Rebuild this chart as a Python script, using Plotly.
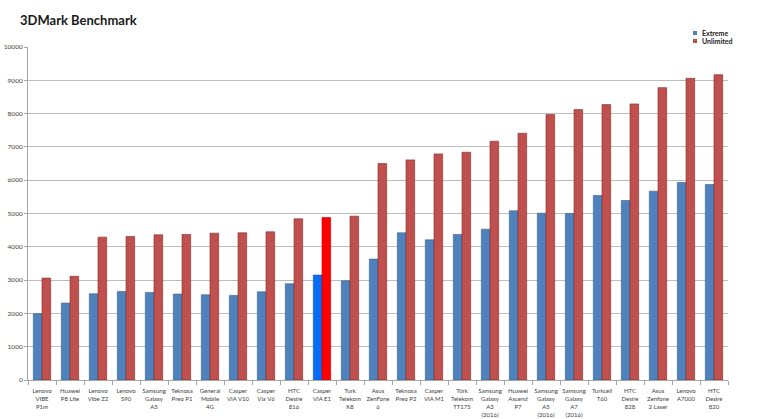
import plotly.graph_objects as go

categories = [
    "Lenovo<br>VIBE<br>P1m", "Huawei<br>P8 Lite", "Lenovo<br>Vibe Z2", "Lenovo<br>S90",
    "Samsung<br>Galaxy<br>A5", "Teknosa<br>Preo P1", "General<br>Mobile<br>4G",
    "Casper<br>VIA V10", "Casper<br>Via V6", "HTC<br>Desire<br>816", "Casper<br>VIA E1",
    "Turk<br>Telekom<br>K8", "Asus<br>ZenFone<br>6", "Teknosa<br>Preo P2", "Casper<br>VIA M1",
    "Türk<br>Telekom<br>TT175", "Samsung<br>Galaxy<br>A3<br>(2016)", "Huawei<br>Ascend<br>P7",
    "Samsung<br>Galaxy<br>A5<br>(2016)", "Samsung<br>Galaxy<br>A7<br>(2016)", "Turkcell<br>T60",
    "HTC<br>Desire<br>828", "Asus<br>Zenfone<br>2 Laser", "Lenovo<br>A7000", "HTC<br>Desire<br>820",
]
extreme = [1990, 2310, 2590, 2660, 2630, 2580, 2560, 2540, 2650, 2890, 3150, 2980, 3630,
           4420, 4210, 4370, 4530, 5080, 5010, 5000, 5540, 5390, 5670, 5930, 5870]
unlimited = [3060, 3115, 4290, 4310, 4360, 4370, 4410, 4420, 4450, 4840, 4880, 4920, 6500,
             6610, 6790, 6840, 7170, 7410, 7970, 8120, 8270, 8290, 8780, 9060, 9170]
highlight = "Casper<br>VIA E1"
y_ticks = [0, 1000, 2000, 3000, 4000, 5000, 6000, 7000, 8000, 9000, 10000]

BLUE, RED = "#4F81BD", "#C0504D"
HBLUE, HRED = "#0A6CF5", "#FF0000"

blue_cols = [HBLUE if c == highlight else BLUE for c in categories]
red_cols = [HRED if c == highlight else RED for c in categories]
red_edge = ["#C00000" if c == highlight else "#7F2A28" for c in categories]
blue_edge = ["#0050C0" if c == highlight else "#35618F" for c in categories]

fig = go.Figure()
fig.add_bar(x=categories, y=extreme, name="Extreme",
            marker=dict(color=blue_cols, line=dict(color=blue_edge, width=0.6)))
fig.add_bar(x=categories, y=unlimited, name="Unlimited",
            marker=dict(color=red_cols, line=dict(color=red_edge, width=0.6)))

fig.update_layout(
    width=770, height=419,
    margin=dict(l=28, r=42, t=47, b=39),
    paper_bgcolor="white", plot_bgcolor="white",
    barmode="group", bargap=0.38, bargroupgap=0.0,
    showlegend=False,
    font=dict(family="Lato, Liberation Sans, sans-serif", size=7, color="#404040"),
    title=dict(text="<b>3DMark Benchmark</b>", x=20 / 770, xanchor="left",
               y=1 - 20 / 419, yanchor="middle",
               font=dict(family="Lato, Open Sans, sans-serif", size=13, color="#1A1A1A")),
)
fig.update_yaxes(range=[0, 10000], tickvals=y_ticks, ticktext=[str(v) for v in y_ticks],
                 showgrid=True, gridcolor="#BDBDBD", gridwidth=1,
                 showline=True, linecolor="#A6A6A6", linewidth=1,
                 ticks="outside", ticklen=3, tickcolor="#A6A6A6",
                 tickfont=dict(size=6.5, color="#404040"), zeroline=False,
                 automargin=False)
fig.update_xaxes(showline=True, linecolor="#A6A6A6", linewidth=1,
                 ticks="outside", tickson="boundaries", ticklen=4, tickcolor="#A6A6A6",
                 tickfont=dict(size=6, color="#404040"), tickangle=0,
                 ticklabelstandoff=5, automargin=False)

# legend drawn as small squares + text
leg = [("Extreme", BLUE, 33), ("Unlimited", RED, 41)]
for name, col, py in leg:
    yp = (419 - 39 - py) / (419 - 39 - 47)
    fig.add_shape(type="rect", xref="paper", yref="paper",
                  x0=(693 - 28) / 700, x1=(697 - 28) / 700,
                  y0=yp - 2 / 333, y1=yp + 2 / 333,
                  fillcolor=col, line=dict(width=0))
    fig.add_annotation(text="<b>" + name + "</b>", xref="paper", yref="paper",
                       x=(700 - 28) / 700, y=yp, xanchor="left", yanchor="middle",
                       showarrow=False, font=dict(size=7, color="#1A1A1A"))

fig.write_html("out.html", config={"displayModeBar": False},
               post_script="document.body.style.margin='0';document.body.style.padding='0';")
